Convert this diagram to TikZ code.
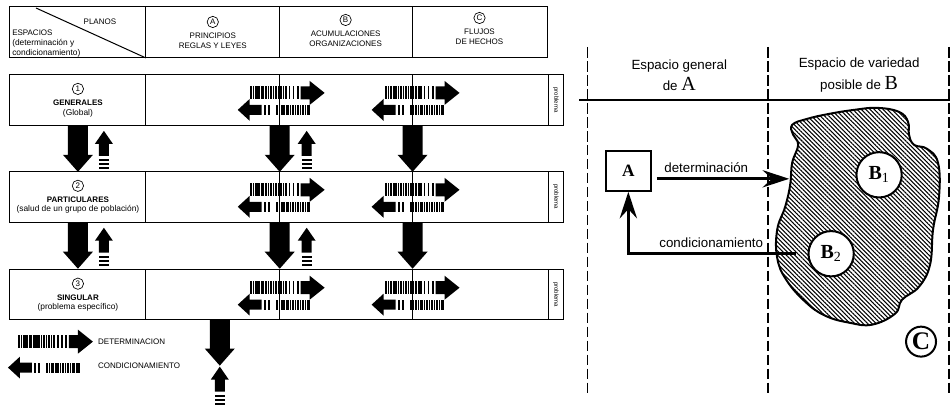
\documentclass[tikz,border=0pt]{standalone}
\usepackage{fontspec}
\setmainfont{Liberation Sans}
\newfontfamily\romfont{Liberation Serif}
\usepackage{tikz}
\usetikzlibrary{patterns.meta}
\usetikzlibrary{arrows.meta}

\begin{document}
\begin{tikzpicture}[x=0.75pt,y=0.75pt,yscale=-1,xscale=1,
  tbl/.style={line width=0.75pt},
  capt/.style={inner sep=0.75pt, align=center, font=\fontsize{6}{7.5}\selectfont},
  sub/.style={inner sep=0.75pt, font=\fontsize{6.3}{7.5}\selectfont},
  circ/.style={circle, draw, line width=0.5pt, inner sep=0pt, minimum size=8.5pt, font=\fontsize{6}{6}\selectfont},
  prob/.style={inner sep=0pt, rotate=-90, font=\fontsize{4.5}{5}\selectfont},
  lab/.style={inner sep=0.75pt, align=center, font=\fontsize{10}{16}\selectfont},
  bnode/.style={circle, draw, fill=white, line width=1.5pt, minimum size=34pt, inner sep=0pt, font=\romfont\bfseries\fontsize{15}{15}\selectfont},
  link/.style={line width=2pt, -{Stealth[length=20pt, width=13pt, inset=7pt]}},
  zone/.style={line width=1.1pt, dash pattern=on 8pt off 2.5pt},
  % pics drop the yscale, so their y axis points up
  % striped arrow to the right (origin: left end of the body)
  detarrow/.pic={
    \foreach \a/\w in {0/2.5,3.2/1.2,5/2.8,8.5/1.5,10.8/2,13.5/1,15.2/2.5,18.5/1.2,20.5/2,23.3/1,25/2.5,28.3/1.2,30.3/2,33/1,34.8/2.2,39/1.8,43/1.8,47/2}
      \fill (\a,-6.5) rectangle ++(\w,13);
    \fill (51,-6.5) -- (60,-6.5) -- (60,-12) -- (75,0) -- (60,12) -- (60,6.5) -- (51,6.5) -- cycle;
  },
  % striped arrow to the left (origin: tip)
  condarrow/.pic={
    \fill (0,0) -- (12,-11) -- (12,-5) -- (24,-5) -- (24,5) -- (12,5) -- (12,11) -- cycle;
    \foreach \a/\w in {26/2,30/2,38/2.5,41.3/1.2,43.3/2.5,46.6/1,48.5/2.8,52/1.2,54/2.5,57.3/1,59/2.5,62.3/1.2,64.3/2.5,67.6/1,69.3/2.7}
      \fill (\a,-5) rectangle ++(\w,10);
  },
  % solid arrow down (origin: top centre)
  detdown/.pic={
    \fill (-10,0) -- (10,0) -- (10,-29) -- (15,-29) -- (0,-46) -- (-15,-29) -- (-10,-29) -- cycle;
  },
  % striped arrow up (origin: tip)
  condup/.pic={
    \fill (0,0) -- (9,-13) -- (5,-13) -- (5,-25) -- (-5,-25) -- (-5,-13) -- (-9,-13) -- cycle;
    \foreach \b in {28,32,36}
      \fill (-5,-\b) rectangle ++(10,-2.2);
  }
]
\path (0,0) rectangle (951,404);

%Header of the table
\draw[tbl] (10,7) rectangle (548,58);
\draw[tbl] (146,7) -- (146,58) (280,7) -- (280,58) (413,7) -- (413,58);
\draw[tbl] (36,8) -- (146,58);

% Text Node
\node[capt] (planos) at (100,22) {PLANOS};
\node[capt, anchor=west] (espacios) at (11,33) {ESPACIOS};
\node[sub, anchor=west] (detcond1) at (11,43) {(determinación y};
\node[sub, anchor=west] (detcond2) at (11,53) {condicionamiento)};
\node[circ] (ca) at (213,22) {A};
\node[capt] (planA) at (213,41) {PRINCIPIOS\\REGLAS Y LEYES};
\node[circ] (cb) at (346,20) {B};
\node[capt] (planB) at (346,39) {ACUMULACIONES\\ORGANIZACIONES};
\node[circ] (cc) at (480,18) {C};
\node[capt] (planC) at (480,37) {FLUJOS\\DE HECHOS};

%Row 1
\draw[tbl] (10,75) rectangle (564,126);
\draw[tbl] (146,75) -- (146,126) (280,75) -- (280,126) (413,75) -- (413,126) (549,75) -- (549,126);
\node[circ] (n1) at (78,89) {1};
\node[capt, font=\bfseries\fontsize{6}{7.5}\selectfont] (gen) at (78,103) {GENERALES};
\node[sub] (glob) at (78,113) {(Global)};
\node[prob] (p1) at (556.5,100) {problema};
\pic at (250,93) {detarrow};
\pic at (238,110) {condarrow};
\pic at (385,93) {detarrow};
\pic at (372,110) {condarrow};

%Between rows 1 and 2
\pic at (78,126) {detdown};
\pic at (104,131) {condup};
\pic at (280,126) {detdown};
\pic at (307,131) {condup};
\pic at (413,126) {detdown};

%Row 2
\draw[tbl] (10,172) rectangle (564,223);
\draw[tbl] (146,172) -- (146,223) (280,172) -- (280,223) (413,172) -- (413,223) (549,172) -- (549,223);
\node[circ] (n2) at (78,186) {2};
\node[capt, font=\bfseries\fontsize{6}{7.5}\selectfont] (part) at (78,200) {PARTICULARES};
\node[sub] (salud) at (78,210) {(salud de un grupo de población)};
\node[prob] (p2) at (556.5,197) {problema};
\pic at (250,190) {detarrow};
\pic at (238,207) {condarrow};
\pic at (385,190) {detarrow};
\pic at (372,207) {condarrow};

%Between rows 2 and 3
\pic at (78,223) {detdown};
\pic at (104,228) {condup};
\pic at (280,223) {detdown};
\pic at (307,228) {condup};
\pic at (413,223) {detdown};

%Row 3
\draw[tbl] (10,270) rectangle (564,320);
\draw[tbl] (146,270) -- (146,320) (280,270) -- (280,320) (413,270) -- (413,320) (549,270) -- (549,320);
\node[circ] (n3) at (78,284) {3};
\node[capt, font=\bfseries\fontsize{6}{7.5}\selectfont] (sing) at (78,298) {SINGULAR};
\node[sub] (espec) at (78,308) {(problema específico)};
\node[prob] (p3) at (556.5,295) {problema};
\pic at (250,288) {detarrow};
\pic at (238,305) {condarrow};
\pic at (385,288) {detarrow};
\pic at (372,305) {condarrow};

%Below row 3
\pic at (220,320) {detdown};
\pic at (220,367) {condup};

%Legend
\pic at (18,342) {detarrow};
\node[capt, anchor=west] (ldet) at (97,342) {DETERMINACION};
\pic at (8,368) {condarrow};
\node[capt, anchor=west] (lcond) at (97,366) {CONDICIONAMIENTO};

%Zones
\draw[zone] (588,47) -- (588,395);
\draw[zone] (769,47) -- (769,395);
\draw[zone] (950,47) -- (950,395);
\draw[line width=1.5pt] (580,100) -- (951,100);
\node[lab] (zA) at (680,75) {Espacio general\\de {\romfont\fontsize{15}{16}\selectfont A}};
\node[lab] (zB) at (860,75) {Espacio de variedad\\posible de {\romfont\fontsize{15}{16}\selectfont B}};

%Variety region
\draw[line width=1.5pt, pattern={Lines[angle=-45, distance=2.3pt, line width=0.8pt]}] plot[smooth cycle, tension=0.7] coordinates {
  (793,125) (808,119) (830,114) (855,110) (878,108) (900,112) (909,122) (910,135)
  (915,145) (928,149) (939,163) (940,197) (934,230) (931,265) (920,287) (903,300)
  (896,314) (873,325) (850,323) (826,316) (806,302) (787,280) (778,258) (778,230)
  (786,207) (791,185) (793,163) (799,145) (794,135)};

\node[draw, line width=1.5pt, minimum width=34pt, minimum height=30pt, inner sep=0pt,
  font=\romfont\bfseries\fontsize{13}{13}\selectfont] (A) at (629,171) {A};
\node[bnode] (B1) at (880,175) {B\textsubscript{\mdseries 1}};
\node[bnode] (B2) at (832,254) {B\textsubscript{\mdseries 2}};
\node[circle, draw, line width=1.5pt, minimum size=22.5pt, inner sep=0pt,
  font=\romfont\bfseries\fontsize{19}{19}\selectfont] (cC) at (922,342) {C};

%Connectors
\coordinate (detE) at (790,179);
\draw[link, shorten <=3.75pt] (A.east |- detE) -- (detE);
\draw[link, shorten <=9pt] (B2.west) -| (A.south);
\node[lab] (ldetR) at (707,168) {determinación};
\node[lab] (lcondR) at (712,243) {condicionamiento};

\end{tikzpicture}
\end{document}
